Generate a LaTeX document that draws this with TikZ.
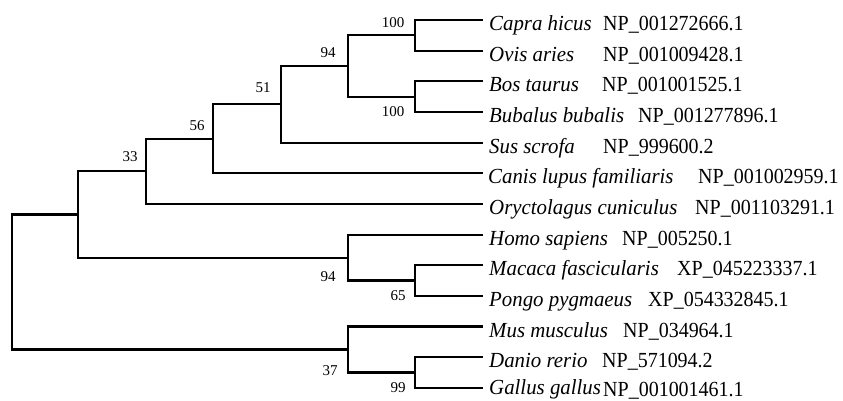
\documentclass[tikz,border=0pt]{standalone}
\usepackage{fontspec}
\setmainfont{Liberation Serif}
\newfontfamily\spfont[FakeStretch=0.97]{Liberation Serif}
\newfontfamily\accfont[FakeStretch=0.93]{Liberation Serif}
\begin{document}
\begin{tikzpicture}[x=1pt,y=-1pt,
  branch/.style={line width=2.2pt, line join=miter, line cap=rect},
  boot/.style={font=\fontsize{15}{17}\selectfont, inner sep=0pt},
  sp/.style={anchor=base west, inner sep=0pt, font=\spfont\fontsize{21.5}{23}\selectfont\itshape},
  acc/.style={anchor=base west, inner sep=0pt, font=\accfont\fontsize{21.5}{23}\selectfont}]
\useasboundingbox (0,0) rectangle (843,400);
% leaves
\coordinate (Lcapra) at (482,20);
\coordinate (Lovis) at (482,50.7);
\coordinate (Lbos) at (482,81.3);
\coordinate (Lbub) at (482,112);
\coordinate (Lsus) at (482,142.6);
\coordinate (Lcanis) at (482,173.3);
\coordinate (Loryc) at (482,203.9);
\coordinate (Lhomo) at (482,234.6);
\coordinate (Lmac) at (482,265.2);
\coordinate (Lpongo) at (482,295.9);
\coordinate (Lmus) at (482,326.5);
\coordinate (Ldanio) at (482,357.2);
\coordinate (Lgallus) at (482,387.8);
% internal nodes
\coordinate (Na) at (415,35.35);
\coordinate (Nb) at (415,96.65);
\coordinate (Nc) at (348,66);
\coordinate (Nd) at (281,104.3);
\coordinate (Ne) at (213,138.8);
\coordinate (Nf) at (146,171.35);
\coordinate (Ng) at (415,280.55);
\coordinate (Nh) at (348,257.6);
\coordinate (Ni) at (78,214.5);
\coordinate (Nj) at (415,372.5);
\coordinate (Nk) at (348,349.5);
\coordinate (Nroot) at (12,282);
% branches
\draw[branch] (Na) |- (Lcapra);
\draw[branch] (Na) |- (Lovis);
\draw[branch] (Nb) |- (Lbos);
\draw[branch] (Nb) |- (Lbub);
\draw[branch] (Nc) |- (Na);
\draw[branch] (Nc) |- (Nb);
\draw[branch] (Nd) |- (Nc);
\draw[branch] (Nd) |- (Lsus);
\draw[branch] (Ne) |- (Nd);
\draw[branch] (Ne) |- (Lcanis);
\draw[branch] (Nf) |- (Ne);
\draw[branch] (Nf) |- (Loryc);
\draw[branch] (Ng) |- (Lmac);
\draw[branch] (Ng) |- (Lpongo);
\draw[branch] (Nh) |- (Lhomo);
\draw[branch] (Nh) |- (Ng);
\draw[branch] (Ni) |- (Nf);
\draw[branch] (Ni) |- (Nh);
\draw[branch] (Nj) |- (Ldanio);
\draw[branch] (Nj) |- (Lgallus);
\draw[branch] (Nk) |- (Lmus);
\draw[branch] (Nk) |- (Nj);
\draw[branch] (Nroot) |- (Ni);
\draw[branch] (Nroot) |- (Nk);
% bootstrap values
\node[boot] (b1) at (393,23) {100};
\node[boot] (b2) at (393,112) {100};
\node[boot] (b3) at (328,53) {94};
\node[boot] (b4) at (263,88) {51};
\node[boot] (b5) at (197,126) {56};
\node[boot] (b6) at (130,157) {33};
\node[boot] (b7) at (328,277) {94};
\node[boot] (b8) at (398,296) {65};
\node[boot] (b9) at (330,371) {37};
\node[boot] (b10) at (398,388) {99};
% species labels
\node[sp] (s1) at (489,30.5) {Capra hicus};
\node[sp] (s2) at (489,61.2) {Ovis aries};
\node[sp] (s3) at (489,91.8) {Bos taurus};
\node[sp] (s4) at (489,122.5) {Bubalus bubalis};
\node[sp] (s5) at (489,153.1) {Sus scrofa};
\node[sp] (s6) at (488,183.8) {Canis lupus familiaris};
\node[sp] (s7) at (489,214.4) {Oryctolagus cuniculus};
\node[sp] (s8) at (489,245.1) {Homo sapiens};
\node[sp] (s9) at (489,275.7) {Macaca fascicularis};
\node[sp] (s10) at (489,306.4) {Pongo pygmaeus};
\node[sp] (s11) at (489,337) {Mus musculus};
\node[sp] (s12) at (489,367.7) {Danio rerio};
\node[sp] (s13) at (489,394.5) {Gallus gallus};
% accession numbers
\node[acc] (a1) at (603,30.5) {NP\_001272666.1};
\node[acc] (a2) at (603,61.2) {NP\_001009428.1};
\node[acc] (a3) at (602,91.8) {NP\_001001525.1};
\node[acc] (a4) at (638,122.5) {NP\_001277896.1};
\node[acc] (a5) at (603,153.1) {NP\_999600.2};
\node[acc] (a6) at (698,183.8) {NP\_001002959.1};
\node[acc] (a7) at (695,214.4) {NP\_001103291.1};
\node[acc] (a8) at (622,245.1) {NP\_005250.1};
\node[acc] (a9) at (677,275.7) {XP\_045223337.1};
\node[acc] (a10) at (648,306.4) {XP\_054332845.1};
\node[acc] (a11) at (623,337) {NP\_034964.1};
\node[acc] (a12) at (602,367.7) {NP\_571094.2};
\node[acc] (a13) at (603,396) {NP\_001001461.1};
\end{tikzpicture}
\end{document}
